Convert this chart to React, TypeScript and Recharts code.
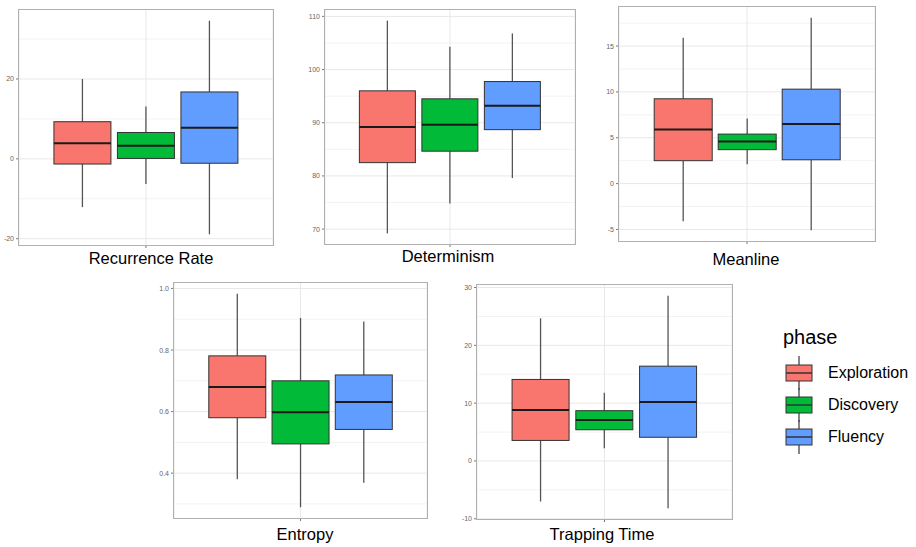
import React from 'react';
import { ComposedChart, Bar, XAxis, YAxis, CartesianGrid } from 'recharts';

// five-number summaries per phase: [lower whisker, q1, median, q3, upper whisker]
const phases = ['Exploration', 'Discovery', 'Fluency'];
const phaseColors = ['#F8766D', '#00BA38', '#619CFF'];

const recurrenceRate = [
  [-12.1, -1.3, 3.9, 9.3, 20.0],
  [-6.3, 0.1, 3.3, 6.6, 13.1],
  [-18.9, -1.1, 7.8, 16.75, 34.6],
];
const determinism = [
  [69.2, 82.5, 89.2, 96.0, 109.2],
  [74.8, 84.65, 89.6, 94.5, 104.3],
  [79.6, 88.7, 93.2, 97.75, 106.8],
];
const meanline = [
  [-4.1, 2.5, 5.9, 9.25, 15.9],
  [2.1, 3.7, 4.6, 5.4, 7.1],
  [-5.1, 2.6, 6.5, 10.3, 18.1],
];
const entropy = [
  [0.38, 0.58, 0.68, 0.781, 0.983],
  [0.289, 0.495, 0.598, 0.7, 0.904],
  [0.369, 0.542, 0.631, 0.719, 0.893],
];
const trappingTime = [
  [-7.0, 3.55, 8.8, 14.1, 24.7],
  [2.2, 5.4, 7.1, 8.7, 11.8],
  [-8.2, 4.1, 10.2, 16.4, 28.6],
];

const rrTicks = [-20, 0, 20];
const rrMinor = [-10, 10, 30];
const detTicks = [70, 80, 90, 100, 110];
const detMinor = [75, 85, 95, 105];
const mlTicks = [-5, 0, 5, 10, 15];
const mlMinor = [-2.5, 2.5, 7.5, 12.5, 17.5];
const entTicks = [0.4, 0.6, 0.8, 1.0];
const entMinor = [0.3, 0.5, 0.7, 0.9];
const ttTicks = [-10, 0, 10, 20, 30];
const ttMinor = [-5, 5, 15, 25];

const FONT = '"Liberation Sans", Arial, Helvetica, sans-serif';
const BORDER = '#b0b0b0';

const BoxShape = (props: any) => {
  const { x, y, width, height, payload } = props;
  const [lo, q1, med, q3, hi] = payload.stats;
  const top = Math.min(y, y + height);
  const h = Math.abs(height);
  const yOf = (v: number) => top + ((hi - v) / (hi - lo)) * h;
  const cx = x + width / 2;
  return (
    <g>
      <line x1={cx} x2={cx} y1={yOf(hi)} y2={yOf(q3)} stroke="#555" strokeWidth={1.3} />
      <line x1={cx} x2={cx} y1={yOf(q1)} y2={yOf(lo)} stroke="#555" strokeWidth={1.3} />
      <rect x={x} y={yOf(q3)} width={width} height={yOf(q1) - yOf(q3)} fill={payload.color} stroke="#333" strokeWidth={1} />
      <line x1={x} x2={x + width} y1={yOf(med)} y2={yOf(med)} stroke="#1a1a1a" strokeWidth={2} />
    </g>
  );
};

interface PanelProps {
  title: string;
  stats: number[][];
  ticks: number[];
  minor: number[];
  left: number;
  top: number;
  w: number;
  h: number;
  titleX: number;
  titleY: number;
  fmt?: (v: number) => string;
}

function Panel({ title, stats, ticks, minor, left, top, w, h, titleX, titleY, fmt }: PanelProps) {
  const rows = phases.map((p, i) => ({
    phase: p,
    color: phaseColors[i],
    stats: stats[i],
    range: [stats[i][0], stats[i][4]],
  }));
  const lo = Math.min(...stats.map((s) => s[0]));
  const hi = Math.max(...stats.map((s) => s[4]));
  const pad = (hi - lo) * 0.05;
  const domain = [lo - pad, hi + pad];
  const xPad = { left: w / 8, right: w / 8 };
  const yw = 30;

  return (
    <>
      <div style={{ position: 'absolute', left: left - yw, top: top }}>
        <ComposedChart
          width={w + yw}
          height={h + 4}
          data={rows}
          margin={{ top: 0, right: 0, left: 0, bottom: 0 }}
          barCategoryGap="5%"
          style={{ fontFamily: FONT }}
        >
          <CartesianGrid horizontalValues={minor} vertical={false} stroke="#f3f3f3" />
          <CartesianGrid horizontalValues={ticks} stroke="#e8e8e8" />
          <XAxis
            dataKey="phase"
            padding={xPad}
            ticks={['Discovery']}
            tickFormatter={() => ''}
            tickSize={3}
            height={4}
            axisLine={false}
            tickLine={{ stroke: '#777' }}
          />
          <YAxis
            type="number"
            domain={domain}
            ticks={ticks}
            interval={0}
            width={yw}
            tickSize={3}
            tickLine={{ stroke: '#777' }}
            axisLine={false}
            tick={{ fontSize: 7, fill: '#666' }}
            tickFormatter={fmt}
            allowDataOverflow
          />
          <Bar dataKey="range" shape={<BoxShape />} isAnimationActive={false} />
        </ComposedChart>
      </div>
      <div
        style={{
          position: 'absolute',
          left: left - 1,
          top: top - 1,
          width: w + 2,
          height: h + 2,
          boxSizing: 'border-box',
          border: `1px solid ${BORDER}`,
          pointerEvents: 'none',
        }}
      />
      <div
        style={{
          position: 'absolute',
          left: titleX,
          top: titleY,
          transform: 'translate(-50%, -50%)',
          fontSize: 16.5,
          lineHeight: 1,
          whiteSpace: 'nowrap',
          color: '#000',
        }}
      >
        {title}
      </div>
    </>
  );
}

function LegendKey({ color }: { color: string }) {
  return (
    <svg width={28} height={34} style={{ display: 'block' }}>
      <line x1={14} x2={14} y1={0} y2={9} stroke="#444" strokeWidth={1.3} />
      <line x1={14} x2={14} y1={25} y2={34} stroke="#444" strokeWidth={1.3} />
      <rect x={1} y={9} width={26} height={16} fill={color} stroke="#333" strokeWidth={1} />
      <line x1={1} x2={27} y1={17} y2={17} stroke="#333" strokeWidth={1.5} />
    </svg>
  );
}

export default function App() {
  return (
    <div style={{ position: 'absolute', left: 0, top: 0, width: 916, height: 547, background: '#fff', fontFamily: FONT, overflow: 'hidden' }}>
      <Panel title="Recurrence Rate" stats={recurrenceRate} ticks={rrTicks} minor={rrMinor} left={19} top={10} w={254} h={235} titleX={151} titleY={258} />
      <Panel title="Determinism" stats={determinism} ticks={detTicks} minor={detMinor} left={325} top={10} w={250} h={234} titleX={448} titleY={256} />
      <Panel title="Meanline" stats={meanline} ticks={mlTicks} minor={mlMinor} left={619} top={7} w={256} h={234} titleX={746} titleY={259} />
      <Panel title="Entropy" stats={entropy} ticks={entTicks} minor={entMinor} left={174} top={283} w={253} h={235} titleX={305} titleY={534} fmt={(v) => v.toFixed(1)} />
      <Panel title="Trapping Time" stats={trappingTime} ticks={ttTicks} minor={ttMinor} left={477} top={285} w={255} h={234} titleX={602} titleY={534} />

      <div style={{ position: 'absolute', left: 783, top: 337, transform: 'translateY(-50%)', fontSize: 20, lineHeight: 1 }}>phase</div>
      {phases.map((p, i) => (
        <div key={p} style={{ position: 'absolute', left: 785, top: 356 + i * 32, display: 'flex', alignItems: 'center' }}>
          <LegendKey color={phaseColors[i]} />
          <span style={{ marginLeft: 15, fontSize: 16, lineHeight: 1 }}>{p}</span>
        </div>
      ))}
    </div>
  );
}
